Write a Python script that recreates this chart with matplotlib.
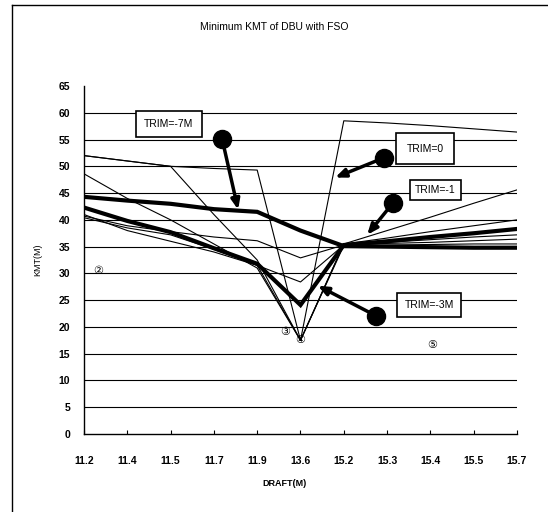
import matplotlib
matplotlib.use("Agg")
import matplotlib.pyplot as plt
from matplotlib.lines import Line2D

# draft categories (x axis is categorical)
drafts = ["11.2", "11.4", "11.5", "11.7", "11.9", "13.6", "15.2", "15.3", "15.4", "15.5", "15.7"]

# minimum KMT per trim condition
kmt_trim0 = [52.0, 51.0, 50.0, 49.6, 49.3, 17.5, 58.5, 58.1, 57.6, 57.0, 56.4]
kmt_trim1 = [52.0, 51.0, 50.0, 41.0, 32.5, 17.5, 35.5, 38.0, 40.5, 43.1, 45.6]
kmt_trim2 = [48.6, 44.0, 40.0, 35.5, 31.0, 17.5, 35.5, 36.6, 37.8, 38.9, 40.0]
kmt_trim3 = [42.3, 39.8, 37.7, 34.7, 31.8, 24.1, 35.3, 36.0, 36.8, 37.5, 38.3]
kmt_trim4 = [40.7, 38.9, 37.8, 36.8, 36.1, 32.9, 35.3, 35.8, 36.3, 36.8, 37.2]
kmt_trim5 = [40.4, 38.5, 37.2, 34.5, 31.5, 28.4, 35.3, 35.6, 35.8, 36.1, 36.4]
kmt_trim6 = [41.0, 38.0, 36.0, 34.0, 31.5, 17.5, 35.2, 35.3, 35.4, 35.5, 35.5]
kmt_trim7 = [44.3, 43.6, 43.0, 42.0, 41.5, 38.0, 35.1, 35.0, 34.9, 34.8, 34.8]

yticks = list(range(0, 70, 5))

plt.rcParams['font.family'] = ['Liberation Sans', 'DejaVu Sans']

fig = plt.figure(figsize=(5.48, 5.12), dpi=100)
ax = fig.add_axes([0.1533, 0.1523, 0.7901, 0.6797])

xs = list(range(len(drafts)))

# horizontal grid
for v in yticks[1:-1]:
    ax.axhline(v, color='black', lw=0.8, zorder=1)

thin = dict(color='black', lw=0.8, zorder=3)
thick = dict(color='black', lw=3.0, zorder=4, solid_joinstyle='miter')
ax.plot(xs, kmt_trim0, **thin)
ax.plot(xs, kmt_trim1, **thin)
ax.plot(xs, kmt_trim2, **thin)
ax.plot(xs, kmt_trim3, **thick)
ax.plot(xs, kmt_trim4, **thin)
ax.plot(xs, kmt_trim5, **thin)
ax.plot(xs, kmt_trim6, **thin)
ax.plot(xs, kmt_trim7, **thick)

ax.set_xlim(0, len(drafts) - 1)
ax.set_ylim(0, 65)
ax.set_xticks(xs)
ax.set_xticklabels(drafts)
ax.set_yticks(yticks)
for s in ['top', 'right']:
    ax.spines[s].set_visible(False)
ax.spines['left'].set_linewidth(1.0)
ax.spines['bottom'].set_linewidth(1.0)
ax.tick_params(axis='x', direction='in', length=3, pad=16, labelsize=7.5)
ax.tick_params(axis='y', length=0, pad=10, labelsize=7.5)
for lab in ax.get_xticklabels() + ax.get_yticklabels():
    lab.set_fontweight('bold')

ax.set_xlabel('DRAFT(M)', fontsize=6.5, fontweight='bold', labelpad=14)
ax.xaxis.set_label_coords(0.464, -0.13)
ax.set_ylabel('KMT(M)', fontsize=6.5, labelpad=12)
fig.text(0.5, 0.947, 'Minimum KMT of DBU with FSO', ha='center', va='center', fontsize=7.5)

# callouts: box label, black dot, thick arrow
callouts = [
    ('TRIM=-7M', (1.96, 57.9), (3.19, 55.1), (3.56, 41.9), 0.8),
    ('TRIM=0', (7.88, 53.3), (6.93, 51.6), (5.80, 47.9), 1.0),
    ('TRIM=-1', (8.11, 45.6), (7.14, 43.2), (6.54, 37.2), 0.5),
    ('TRIM=-3M', (7.97, 24.1), (6.74, 22.1), (5.40, 27.7), 0.7),
]
for text, box, dot, tip, pad in callouts:
    ax.text(box[0], box[1], text, ha='center', va='center', fontsize=7.5, zorder=6,
            bbox=dict(boxstyle=f'square,pad={pad}', fc='white', ec='black', lw=1.2))
    ax.annotate('', xy=tip, xytext=dot, zorder=6,
                arrowprops=dict(arrowstyle='-|>,head_width=0.25,head_length=0.6',
                                color='black', lw=2.5, shrinkA=0, shrinkB=0))
    ax.plot(dot[0], dot[1], 'o', color='black', ms=13, zorder=7)

circled = [('②', 0.32, 30.5), ('③', 4.64, 19.1), ('④', 4.99, 17.6), ('⑤', 8.04, 16.6)]
for t, x, y in circled:
    ax.text(x, y, t, ha='center', va='center', fontsize=8, zorder=8,
            family=['DejaVu Sans', 'Noto Sans CJK JP'])

# scanned page frame
fig.add_artist(Line2D([12 / 548, 1.0], [1 - 5 / 512, 1 - 5 / 512], color='black', lw=1.0))
fig.add_artist(Line2D([12 / 548, 12 / 548], [0.0, 1 - 5 / 512], color='black', lw=1.0))

fig.savefig('out.png', dpi=100)
